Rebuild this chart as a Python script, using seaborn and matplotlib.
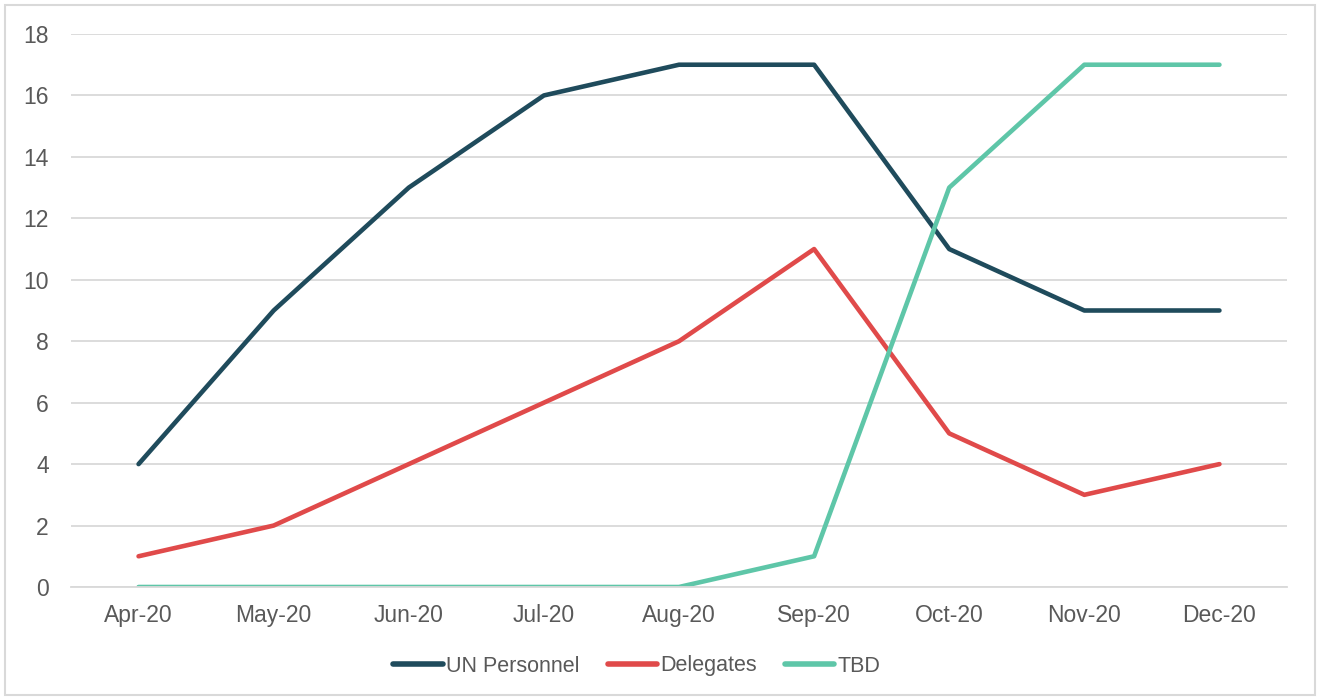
import numpy as np
import pandas as pd
import matplotlib.pyplot as plt
import seaborn as sns
from matplotlib.patches import Rectangle
from matplotlib.ticker import FixedLocator

# Data
months = ['Apr-20', 'May-20', 'Jun-20', 'Jul-20', 'Aug-20', 'Sep-20', 'Oct-20', 'Nov-20', 'Dec-20']
un_personnel = [4, 9, 13, 16, 17, 17, 11, 9, 9]
delegates = [1, 2, 4, 6, 8, 11, 5, 3, 4]
tbd = [0, 0, 0, 0, 0, 1, 13, 17, 17]
series = ['UN Personnel', 'Delegates', 'TBD']
colors = ['#1F4B5C', '#E04A4A', '#5EC6A8']

df = pd.DataFrame({'month': months * 3,
                   'value': un_personnel + delegates + tbd,
                   'series': np.repeat(series, len(months))})

sns.set_theme(style='white')
plt.rcParams['font.family'] = ['Liberation Sans', 'DejaVu Sans']
text_col = '#595959'
grid_col = '#D9D9D9'

fig = plt.figure(figsize=(13.19, 6.99), dpi=100)
ax = fig.add_axes([71 / 1319, 1 - 587 / 699, (1287 - 71) / 1319, (587 - 34) / 699])

sns.lineplot(data=df, x='month', y='value', hue='series', hue_order=series,
             palette=colors, sort=False, linewidth=3.3, ax=ax,
             solid_capstyle='round', solid_joinstyle='round', legend=True)

ax.set_xlim(-0.5, len(months) - 0.5)
ax.set_ylim(0, 18)
ax.set_yticks(range(0, 19, 2))
ax.yaxis.grid(True, color=grid_col, linewidth=1.3)
ax.set_axisbelow(True)
ax.set_xlabel('')
ax.set_ylabel('')

for s in ['top', 'right', 'left']:
    ax.spines[s].set_visible(False)
ax.spines['bottom'].set_color(grid_col)
ax.spines['bottom'].set_linewidth(1.3)

ax.xaxis.set_minor_locator(FixedLocator(np.arange(-0.5, len(months), 1)))
ax.tick_params(axis='x', which='major', length=0, pad=12, labelsize=16.5, labelcolor=text_col)
ax.tick_params(axis='x', which='minor', length=6, width=1.3, color=grid_col, direction='out')
ax.tick_params(axis='y', length=0, pad=16, labelsize=16.5, labelcolor=text_col)

handles, labels = ax.get_legend_handles_labels()
ax.get_legend().remove()
leg = fig.legend(handles, labels, loc='center', bbox_to_anchor=(637 / 1319, 1 - 666 / 699),
                 ncol=3, frameon=False, fontsize=15.5, handlelength=2.3, handletextpad=0.15,
                 columnspacing=1.3, labelcolor=text_col)
for h in leg.get_lines():
    h.set_linewidth(4)
    h.set_solid_capstyle('round')

# chart border
fig.patches.append(Rectangle((5 / 1319, 4 / 699), 1310 / 1319, 690 / 699, transform=fig.transFigure,
                             fill=False, edgecolor=grid_col, linewidth=1.5))

fig.savefig('out.png', dpi=100, facecolor='white')
